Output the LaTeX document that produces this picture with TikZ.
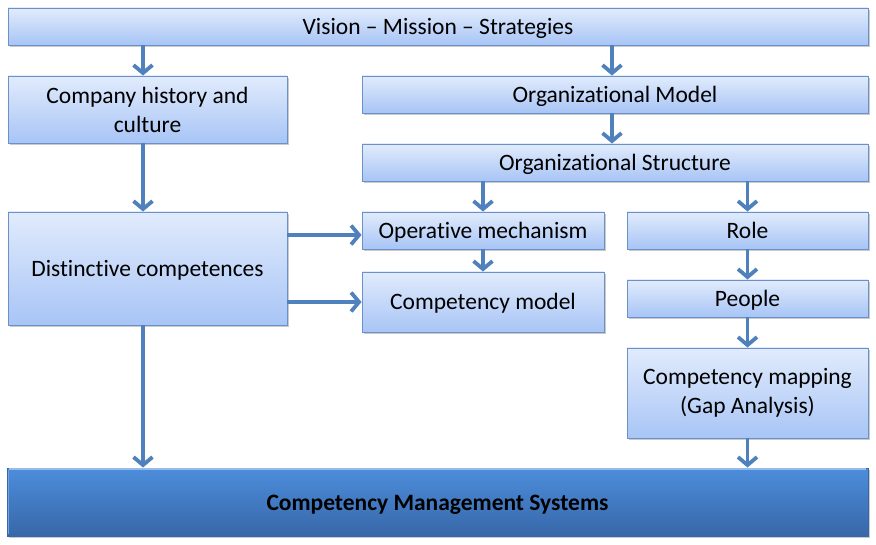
\documentclass[tikz,border=0pt]{standalone}
\usepackage{fontspec}
\setmainfont{Carlito}[Ligatures=NoCommon]
\usetikzlibrary{arrows.meta,shadows}
\definecolor{boxtop}{HTML}{E1EBFC}
\definecolor{boxbot}{HTML}{A8C5F6}
\definecolor{boxline}{HTML}{6A92C8}
\definecolor{arrcol}{HTML}{4F81BD}
\definecolor{cmstop}{HTML}{4D8DDC}
\definecolor{cmsbot}{HTML}{3767A8}
\tikzset{
  box/.style={draw=boxline, line width=0.9pt, top color=boxtop, bottom color=boxbot,
    drop shadow={shadow xshift=1.5pt, shadow yshift=-2pt, opacity=0.35, fill=black!60},
    align=center, inner sep=0pt, font=\fontsize{23.5}{29}\selectfont},
  oneline/.style={text height=19pt, text depth=3pt},
  cmsbox/.style={draw=cmsbot, line width=0.9pt, top color=cmstop, bottom color=cmsbot,
    drop shadow={shadow xshift=1.5pt, shadow yshift=-2pt, opacity=0.35, fill=black!60},
    align=center, inner sep=0pt, font=\bfseries\fontsize{23.5}{29}\selectfont},
  arr/.style={draw=arrcol, line width=3.8pt, -{Straight Barb[length=8pt, width=19pt, line width=3.8pt]}}
}
\begin{document}
\begin{tikzpicture}[x=1pt, y=-1pt]
\useasboundingbox (0,0) rectangle (876,545);
\node[box, oneline, minimum width=860pt, minimum height=37pt] (vision) at (438,26.5) {Vision -- Mission -- Strategies};
\node[box, minimum width=279pt, minimum height=67pt] (company) at (147.5,109.5) {Company history and\\culture};
\node[box, oneline, minimum width=506pt, minimum height=37pt] (orgmodel) at (615,94.5) {Organizational Model};
\node[box, oneline, minimum width=506pt, minimum height=37pt] (orgstruct) at (615,162.5) {Organizational Structure};
\node[box, oneline, minimum width=279pt, minimum height=113pt] (distinct) at (147.5,268.5) {Distinctive competences};
\node[box, oneline, minimum width=242pt, minimum height=37pt] (operative) at (483,230.5) {Operative mechanism};
\node[box, oneline, minimum width=242pt, minimum height=60pt] (compmodel) at (483,302) {Competency model};
\node[box, oneline, minimum width=241pt, minimum height=37pt] (role) at (747.5,230.5) {Role};
\node[box, oneline, minimum width=241pt, minimum height=37pt] (people) at (747.5,298.5) {People};
\node[box, minimum width=241pt, minimum height=90pt] (mapping) at (747.5,393) {Competency mapping\\(Gap Analysis)};
\node[cmsbox, oneline, minimum width=861pt, minimum height=68pt] (cms) at (437.5,502) {Competency Management Systems};
\draw[cmstop!60!white, line width=1.5pt] ([xshift=2pt,yshift=-1.5pt]cms.north west) -- ([xshift=-2pt,yshift=-1.5pt]cms.north east);
\draw[cmstop!80!white, line width=1pt] ([xshift=1.5pt,yshift=-2pt]cms.north west) -- ([xshift=1.5pt,yshift=2pt]cms.south west);
% arrows
\draw[arr] (vision.south -| 143,0) -- (company.north -| 143,0);
\draw[arr] (vision.south -| 612,0) -- (orgmodel.north -| 612,0);
\draw[arr] (orgmodel.south -| 612,0) -- (orgstruct.north -| 612,0);
\draw[arr] (orgstruct.south -| operative) -- (operative.north);
\draw[arr] (orgstruct.south -| role) -- (role.north);
\draw[arr] (company.south -| 143,0) -- (distinct.north -| 143,0);
\draw[arr] (distinct.east |- 0,235) -- (operative.west |- 0,235);
\draw[arr] (distinct.east |- 0,302) -- (compmodel.west |- 0,302);
\draw[arr] (operative.south) -- (compmodel.north);
\draw[arr] (role.south) -- (people.north);
\draw[arr] (people.south) -- (mapping.north);
\draw[arr] (mapping.south) -- (cms.north -| mapping);
\draw[arr] (distinct.south -| 143,0) -- (cms.north -| 143,0);
\end{tikzpicture}
\end{document}
